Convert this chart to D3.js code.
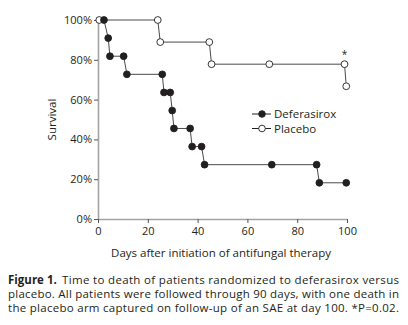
<!DOCTYPE html>
<html lang="en">
<head>
    <meta charset="UTF-8">
    <title>Time to death</title>
    <script src="https://d3js.org/d3.v7.min.js"></script>
    <style>
        body {
            margin: 0;
            padding: 0;
            background-color: white;
            font-family: 'Open Sans', 'Noto Sans', sans-serif;
        }
        svg { display: block; }
    </style>
</head>
<body>
    <svg width="408" height="325"></svg>

    <script>
        // Kaplan-Meier points: day after start, survival fraction
        const deferasiroxDays = [2.4, 4.1, 4.8, 10.3, 11.6, 25.8, 26.5, 29.0, 29.8, 30.5, 37.0, 37.8, 41.6, 42.8, 69.8, 87.8, 88.9, 99.7];
        const deferasiroxSurv = [1.0, 0.909, 0.818, 0.818, 0.727, 0.727, 0.636, 0.636, 0.545, 0.455, 0.455, 0.364, 0.364, 0.273, 0.273, 0.273, 0.182, 0.182];

        const placeboDays = [0.5, 24.0, 25.0, 44.7, 45.6, 68.8, 99.0, 99.7];
        const placeboSurv = [1.0, 1.0, 0.889, 0.889, 0.778, 0.778, 0.778, 0.667];

        const yTicks = [0, 0.2, 0.4, 0.6, 0.8, 1.0];
        const xTicks = [0, 20, 40, 60, 80, 100];

        const captionLines = [
            "Time to death of patients randomized to deferasirox versus",
            "placebo. All patients were followed through 90 days, with one death in",
            "the placebo arm captured on follow-up of an SAE at day 100. *P=0.02."
        ];

        const svg = d3.select("svg");
        const ink = "#231f20";

        const x = d3.scaleLinear().domain([0, 100]).range([98, 347]);
        const y = d3.scaleLinear().domain([0, 1]).range([219, 20]);

        // axes
        const yAxis = svg.append("g")
            .attr("transform", `translate(${x(0)},0)`)
            .call(d3.axisLeft(y).tickValues(yTicks).tickFormat(d3.format(".0%")).tickSize(4).tickSizeOuter(0));
        const xAxis = svg.append("g")
            .attr("transform", `translate(0,${y(0)})`)
            .call(d3.axisBottom(x).tickValues(xTicks).tickSize(4).tickSizeOuter(0));

        [yAxis, xAxis].forEach(ax => {
            ax.select(".domain").attr("stroke", "#a3a3a3").attr("stroke-width", 1.6);
            ax.selectAll(".tick line").attr("stroke", "#555");
            ax.selectAll(".tick text")
              .attr("fill", ink)
              .style("font-family", "'Open Sans', sans-serif")
              .style("font-size", "11px");
        });
        yAxis.selectAll(".tick text").attr("x", -6);
        xAxis.selectAll(".tick text").attr("y", 8);

        svg.append("text")
            .attr("transform", `translate(56,${y(0.5)}) rotate(-90)`)
            .attr("text-anchor", "middle")
            .attr("fill", ink)
            .style("font-size", "11.5px")
            .text("Survival");

        svg.append("text")
            .attr("x", 221)
            .attr("y", 257)
            .attr("text-anchor", "middle")
            .attr("fill", ink)
            .style("font-size", "11.5px")
            .text("Days after initiation of antifungal therapy");

        const line = d3.line().x(d => x(d[0])).y(d => y(d[1]));

        const series = [
            {name: "Placebo", pts: d3.zip(placeboDays, placeboSurv), fill: "white"},
            {name: "Deferasirox", pts: d3.zip(deferasiroxDays, deferasiroxSurv), fill: ink}
        ];

        series.forEach(s => {
            svg.append("path")
              .datum(s.pts)
              .attr("d", line)
              .attr("fill", "none")
              .attr("stroke", "#4a4a4a")
              .attr("stroke-width", 1);
        });
        series.forEach(s => {
            svg.append("g").selectAll("circle")
              .data(s.pts)
              .enter().append("circle")
              .attr("cx", d => x(d[0]))
              .attr("cy", d => y(d[1]))
              .attr("r", 3.4)
              .attr("fill", s.fill)
              .attr("stroke", ink)
              .attr("stroke-width", 0.9);
        });

        // significance mark on placebo arm
        svg.append("text")
            .attr("x", x(99))
            .attr("y", y(0.778) - 6)
            .attr("text-anchor", "middle")
            .attr("fill", ink)
            .style("font-size", "10px")
            .text("*");

        // legend
        const legend = svg.append("g").attr("transform", "translate(252,114)");
        [series[1], series[0]].forEach((s, i) => {
            const row = legend.append("g").attr("transform", `translate(0,${i * 14.5})`);
            row.append("line").attr("x1", 0).attr("x2", 19).attr("stroke", ink).attr("stroke-width", 1);
            row.append("circle").attr("cx", 10).attr("r", 3.3)
               .attr("fill", s.fill).attr("stroke", ink).attr("stroke-width", 0.9);
            row.append("text").attr("x", 22).attr("y", 4)
               .attr("fill", ink).style("font-size", "11.5px").text(s.name);
        });

        // figure caption
        const cap = svg.append("text").attr("fill", ink).style("font-size", "11.5px");
        cap.append("tspan").attr("x", 8).attr("y", 284)
           .style("font-weight", "bold").text("Figure 1.");
        cap.append("tspan").attr("x", 62).attr("y", 284)
           .attr("textLength", 337).attr("lengthAdjust", "spacing").text(captionLines[0]);
        captionLines.slice(1).forEach((t, i) => {
            cap.append("tspan").attr("x", 8).attr("y", 298 + i * 14)
               .attr("textLength", 391).attr("lengthAdjust", "spacing").text(t);
        });
    </script>
</body>
</html>
